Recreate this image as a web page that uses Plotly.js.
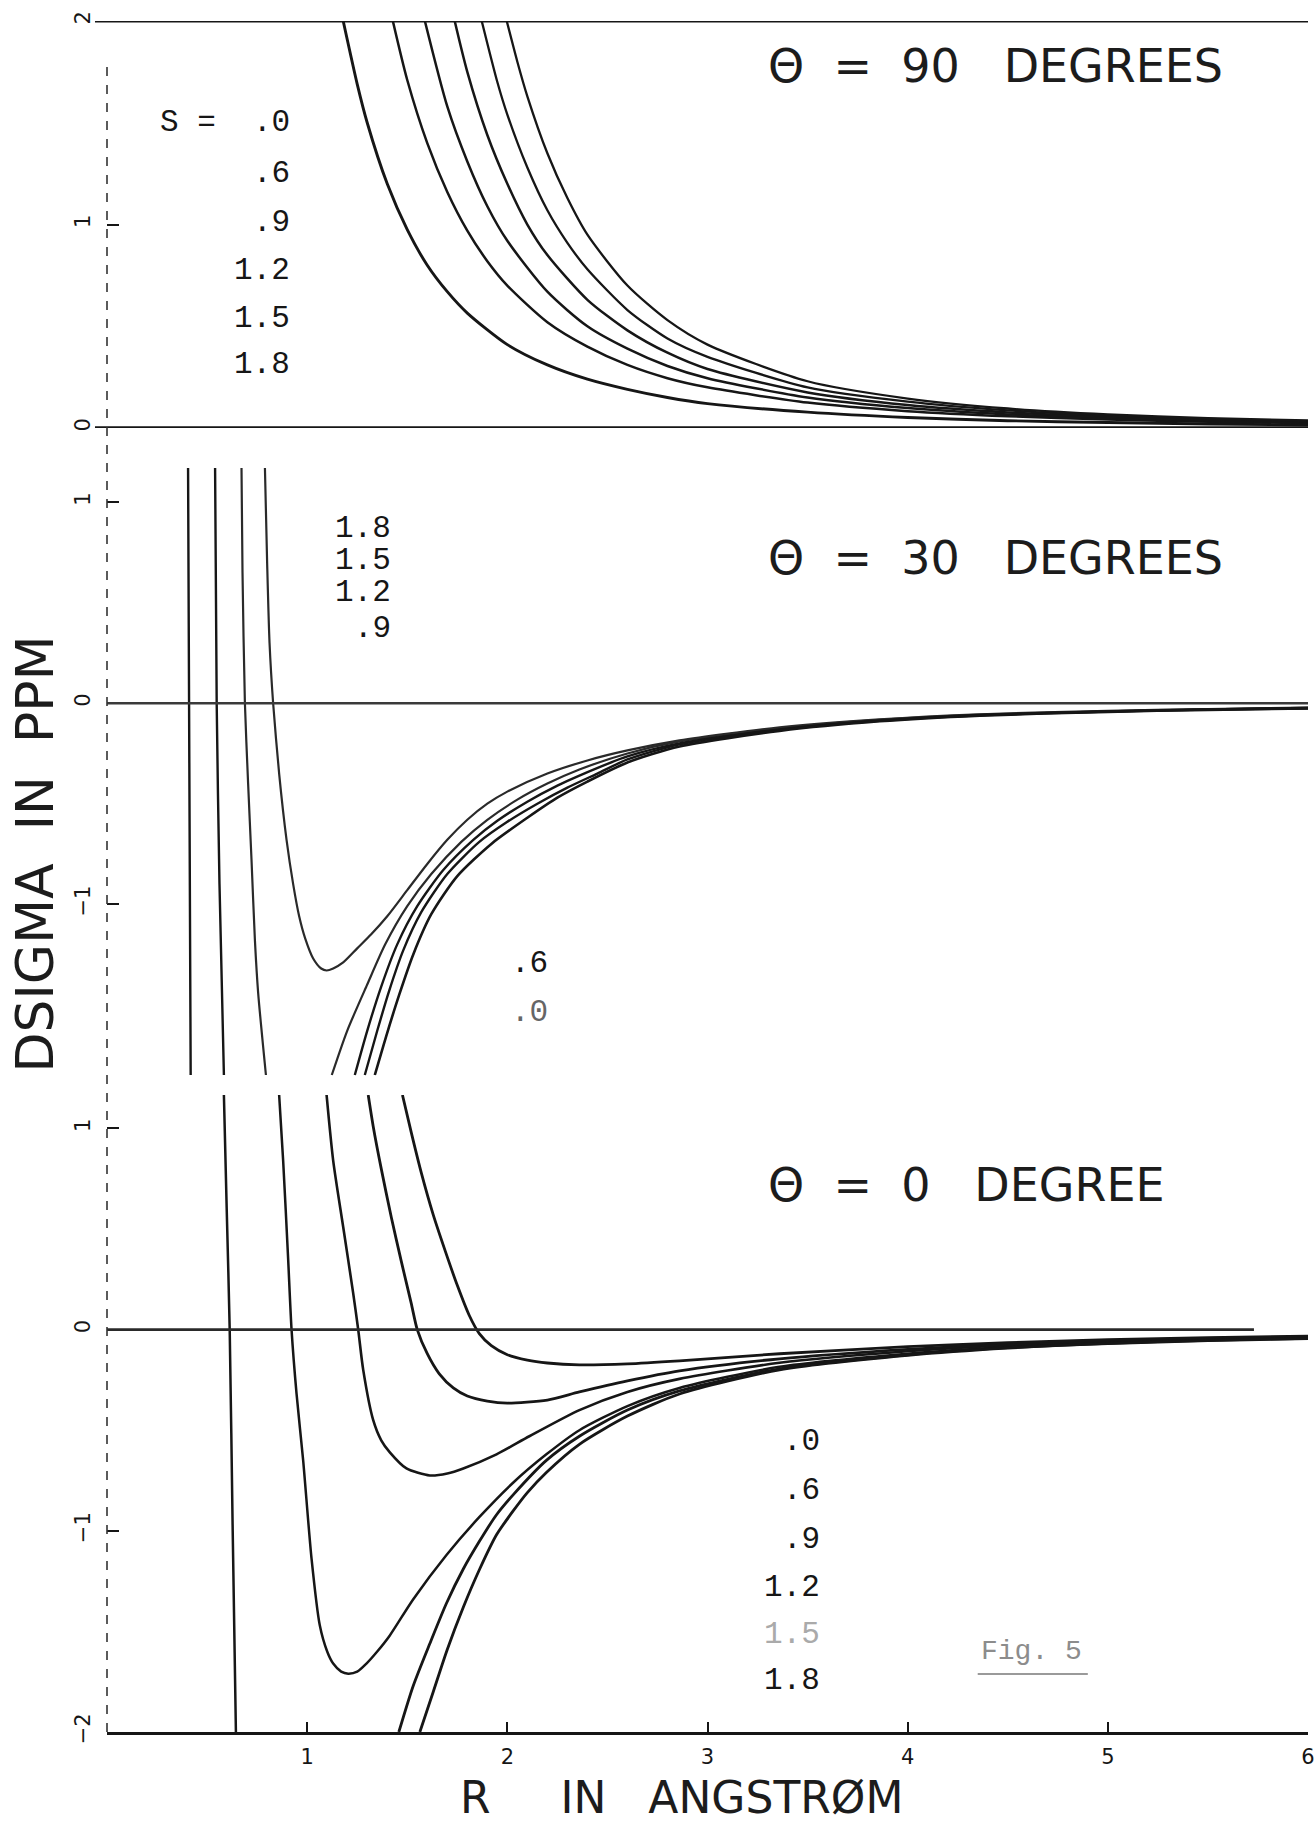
<!DOCTYPE html>
<html>
<head>
<meta charset="utf-8">
<script src="https://cdn.plot.ly/plotly-3.0.1.min.js"></script>
<style>
html,body{margin:0;padding:0;background:#ffffff;}
#chart{width:1316px;height:1827px;}
</style>
</head>
<body>
<div id="chart"></div>
<script>
// ---------------- DATA ----------------
// R axis ticks (Angstrom)
const R_TICKS = [1, 2, 3, 4, 5, 6];
const R_TICK_TEXT = ['1', '2', '3', '4', '5', '6'];

// Panel tick values (DSIGMA in ppm)
const P90_TICKS = [0, 1, 2];
const P30_TICKS = [-1, 0, 1];
const P0_TICKS = [-2, -1, 0, 1];

// S values used as curve labels
const S_LABELS = ['.0', '.6', '.9', '1.2', '1.5', '1.8'];
const P30_UPPER_LABELS = ['1.8', '1.5', '1.2', '.9'];
const P30_LOWER_LABELS = ['.6', '.0'];
const PANEL_TITLES = ['\u0398\u00a0\u00a0=\u00a0\u00a090\u00a0\u00a0\u00a0DEGREES',
                      '\u0398\u00a0\u00a0=\u00a0\u00a030\u00a0\u00a0\u00a0DEGREES',
                      '\u0398\u00a0\u00a0=\u00a0\u00a00\u00a0\u00a0\u00a0DEGREE'];

// ---- Theta = 90 degrees ----
const p90_s00_x = [1.18,1.25,1.3,1.4,1.5,1.6,1.7,1.8,2.0,2.2,2.4,2.6,2.8,3.0,3.5,4.0,4.5,5.0,5.5,6.0];
const p90_s00_y = [2.0,1.69,1.50,1.20,0.975,0.80,0.67,0.565,0.41,0.31,0.24,0.19,0.15,0.12,0.078,0.052,0.036,0.027,0.02,0.015];
const p90_s06_x = [1.428,1.5,1.6,1.7,1.8,1.9,2.0,2.2,2.4,2.6,2.8,3.0,3.5,4.0,4.5,5.0,5.5,6.0];
const p90_s06_y = [2.0,1.71,1.40,1.16,0.97,0.82,0.70,0.52,0.40,0.31,0.245,0.20,0.125,0.083,0.058,0.042,0.031,0.024];
const p90_s09_x = [1.588,1.7,1.8,1.9,2.0,2.2,2.4,2.6,2.8,3.0,3.5,4.0,4.5,5.0,5.5,6.0];
const p90_s09_y = [2.0,1.58,1.31,1.09,0.92,0.67,0.50,0.39,0.305,0.245,0.15,0.098,0.067,0.048,0.036,0.027];
const p90_s12_x = [1.737,1.8,1.9,2.0,2.1,2.2,2.4,2.6,2.8,3.0,3.5,4.0,4.5,5.0,5.5,6.0];
const p90_s12_y = [2.0,1.75,1.44,1.20,1.0,0.85,0.63,0.48,0.37,0.29,0.175,0.113,0.077,0.055,0.04,0.031];
const p90_s15_x = [1.872,1.95,2.0,2.1,2.2,2.3,2.4,2.6,2.8,3.0,3.5,4.0,4.5,5.0,5.5,6.0];
const p90_s15_y = [2.0,1.70,1.54,1.28,1.07,0.91,0.78,0.58,0.44,0.35,0.20,0.13,0.087,0.061,0.045,0.034];
const p90_s18_x = [1.997,2.05,2.1,2.2,2.3,2.4,2.6,2.8,3.0,3.5,4.0,4.5,5.0,5.5,6.0];
const p90_s18_y = [2.0,1.80,1.63,1.35,1.13,0.95,0.70,0.53,0.41,0.23,0.145,0.096,0.067,0.049,0.037];

// ---- Theta = 30 degrees ----
const p30_v1_x = [0.405,0.410,0.418];
const p30_v1_y = [1.17,0.0,-1.85];
const p30_v2_x = [0.540,0.548,0.562,0.584];
const p30_v2_y = [1.17,0.0,-0.9,-1.85];
const p30_v3_x = [0.672,0.677,0.689,0.705,0.722,0.739,0.755,0.794];
const p30_v3_y = [1.17,0.65,0.0,-0.4,-0.78,-1.18,-1.44,-1.85];
const p30_dip_x = [0.789,0.80,0.812,0.830,0.86,0.897,0.93,0.96,0.99,1.03,1.07,1.097,1.13,1.18,1.25,1.32,1.40,1.50,1.60,1.70,1.80,1.90,2.0,2.2,2.4,2.6,2.86,3.36,3.86,4.36,5.0,5.5,6.0];
const p30_dip_y = [1.17,0.7,0.3,0.0,-0.35,-0.68,-0.90,-1.06,-1.17,-1.27,-1.32,-1.33,-1.32,-1.29,-1.22,-1.15,-1.06,-0.93,-0.80,-0.68,-0.58,-0.50,-0.44,-0.35,-0.285,-0.235,-0.185,-0.12,-0.08,-0.055,-0.038,-0.029,-0.022];
const p30_r1_x = [1.123,1.2,1.3,1.39,1.5,1.62,1.77,1.9,2.05,2.2,2.36,2.6,2.86,3.36,3.86,4.36,5.0,5.5,6.0];
const p30_r1_y = [-1.85,-1.63,-1.40,-1.20,-1.01,-0.85,-0.69,-0.58,-0.48,-0.40,-0.33,-0.25,-0.19,-0.125,-0.083,-0.057,-0.04,-0.03,-0.023];
const p30_r2_x = [1.238,1.3,1.37,1.45,1.55,1.68,1.83,1.95,2.1,2.25,2.36,2.6,2.86,3.36,3.86,4.36,5.0,5.5,6.0];
const p30_r2_y = [-1.85,-1.63,-1.41,-1.20,-1.01,-0.83,-0.68,-0.585,-0.49,-0.41,-0.36,-0.265,-0.2,-0.13,-0.086,-0.059,-0.041,-0.031,-0.024];
const p30_r3_x = [1.288,1.35,1.41,1.48,1.57,1.70,1.86,2.0,2.15,2.3,2.45,2.6,2.86,3.36,3.86,4.36,5.0,5.5,6.0];
const p30_r3_y = [-1.85,-1.63,-1.43,-1.23,-1.04,-0.85,-0.69,-0.59,-0.5,-0.42,-0.35,-0.28,-0.205,-0.133,-0.088,-0.06,-0.042,-0.032,-0.025];
const p30_r4_x = [1.338,1.40,1.46,1.53,1.62,1.75,1.92,2.1,2.25,2.4,2.6,2.86,3.36,3.86,4.36,5.0,5.5,6.0];
const p30_r4_y = [-1.85,-1.64,-1.45,-1.25,-1.05,-0.86,-0.70,-0.57,-0.47,-0.39,-0.295,-0.215,-0.138,-0.09,-0.062,-0.043,-0.033,-0.026];

// ---- Theta = 0 degree ----
const p0_a_x = [0.584,0.598,0.613,0.628,0.644];
const p0_a_y = [1.166,0.6,0.0,-1.0,-2.0];
const p0_b_x = [0.86,0.88,0.905,0.922,0.947,0.98,1.022,1.063,1.10,1.13,1.17,1.205,1.25,1.296,1.35,1.413,1.53,1.696,1.862,2.03,2.195,2.36,2.6,2.86,3.36,4.0,4.5,5.0,5.5,6.0];
const p0_b_y = [1.166,0.84,0.35,0.0,-0.32,-0.65,-1.14,-1.47,-1.60,-1.66,-1.70,-1.71,-1.70,-1.66,-1.60,-1.52,-1.34,-1.12,-0.93,-0.76,-0.62,-0.50,-0.38,-0.29,-0.185,-0.12,-0.087,-0.065,-0.05,-0.04];
const p0_c_x = [1.097,1.13,1.18,1.23,1.255,1.28,1.33,1.37,1.413,1.496,1.613,1.70,1.78,1.946,2.11,2.36,2.6,2.86,3.36,4.0,4.5,5.0,5.5,6.0];
const p0_c_y = [1.166,0.84,0.51,0.18,0.0,-0.2,-0.45,-0.55,-0.61,-0.69,-0.725,-0.715,-0.69,-0.62,-0.53,-0.40,-0.31,-0.245,-0.165,-0.108,-0.078,-0.058,-0.046,-0.038];
const p0_d_x = [1.305,1.33,1.37,1.42,1.47,1.52,1.55,1.60,1.66,1.73,1.80,1.90,2.0,2.2,2.36,2.6,2.86,3.36,4.0,4.5,5.0,5.5,6.0];
const p0_d_y = [1.166,1.01,0.80,0.56,0.34,0.13,0.0,-0.12,-0.22,-0.29,-0.33,-0.355,-0.365,-0.35,-0.31,-0.255,-0.205,-0.145,-0.098,-0.072,-0.055,-0.044,-0.036];
const p0_e_x = [1.476,1.52,1.57,1.63,1.69,1.75,1.81,1.86,1.92,2.0,2.1,2.2,2.36,2.6,2.86,3.36,4.0,4.5,5.0,5.5,6.0];
const p0_e_y = [1.166,0.98,0.78,0.57,0.39,0.22,0.07,-0.02,-0.08,-0.125,-0.152,-0.166,-0.175,-0.17,-0.155,-0.12,-0.085,-0.065,-0.05,-0.04,-0.033];
const p0_f_x = [1.458,1.53,1.613,1.696,1.78,1.862,1.946,2.03,2.195,2.36,2.6,2.86,3.36,4.0,4.5,5.0,5.5,6.0];
const p0_f_y = [-2.0,-1.77,-1.56,-1.36,-1.19,-1.05,-0.92,-0.82,-0.65,-0.53,-0.40,-0.305,-0.195,-0.125,-0.09,-0.068,-0.053,-0.043];
const p0_g_x = [1.563,1.63,1.70,1.78,1.862,1.946,2.03,2.1,2.195,2.36,2.6,2.86,3.36,4.0,4.5,5.0,5.5,6.0];
const p0_g_y = [-2.0,-1.80,-1.59,-1.38,-1.19,-1.02,-0.90,-0.81,-0.71,-0.57,-0.43,-0.32,-0.20,-0.128,-0.092,-0.07,-0.055,-0.045];

// ---------------- BUILD ----------------
const INK = '#161616';
function curve(x, y, yaxis, name, w, col) {
  return {
    type: 'scatter', mode: 'lines', x: x, y: y, xaxis: 'x', yaxis: yaxis, name: name,
    line: {color: col || INK, width: w || 2.5, shape: 'spline', smoothing: 0.7},
    hoverinfo: 'x+y+name'
  };
}

const traces = [
  curve(p90_s00_x, p90_s00_y, 'y', '90°, S=.0', 2.9),
  curve(p90_s06_x, p90_s06_y, 'y', '90°, S=.6', 2.5),
  curve(p90_s09_x, p90_s09_y, 'y', '90°, S=.9', 2.5),
  curve(p90_s12_x, p90_s12_y, 'y', '90°, S=1.2', 2.5),
  curve(p90_s15_x, p90_s15_y, 'y', '90°, S=1.5', 2.3),
  curve(p90_s18_x, p90_s18_y, 'y', '90°, S=1.8', 2.3),

  curve(p30_v1_x, p30_v1_y, 'y2', '30°, branch 1', 2.4),
  curve(p30_v2_x, p30_v2_y, 'y2', '30°, branch 2', 2.4),
  curve(p30_v3_x, p30_v3_y, 'y2', '30°, branch 3', 2.2, '#2a2a2a'),
  curve(p30_dip_x, p30_dip_y, 'y2', '30°, branch 4', 2.2, '#2a2a2a'),
  curve(p30_r1_x, p30_r1_y, 'y2', '30°, branch 5', 2.2, '#2a2a2a'),
  curve(p30_r2_x, p30_r2_y, 'y2', '30°, branch 6', 2.4),
  curve(p30_r3_x, p30_r3_y, 'y2', '30°, branch 7', 2.4),
  curve(p30_r4_x, p30_r4_y, 'y2', '30°, branch 8', 2.6),

  curve(p0_a_x, p0_a_y, 'y3', '0°, branch a', 2.5),
  curve(p0_b_x, p0_b_y, 'y3', '0°, branch b', 2.5),
  curve(p0_c_x, p0_c_y, 'y3', '0°, branch c', 2.6),
  curve(p0_d_x, p0_d_y, 'y3', '0°, branch d', 2.8),
  curve(p0_e_x, p0_e_y, 'y3', '0°, branch e', 2.8),
  curve(p0_f_x, p0_f_y, 'y3', '0°, branch f', 2.8),
  curve(p0_g_x, p0_g_y, 'y3', '0°, branch g', 2.8)
];

const TICKFONT = {family: 'DejaVu Sans, sans-serif', size: 21, color: INK};
function yax(domain, range, tickvals) {
  return {
    domain: domain, range: range, anchor: 'x', tickvals: tickvals,
    ticks: 'inside', ticklen: 12, tickwidth: 2, tickcolor: INK,
    tickangle: -90, tickfont: TICKFONT, ticklabelstandoff: 12,
    showline: false, showgrid: false, zeroline: false, fixedrange: true
  };
}

const TYPE = {family: 'Liberation Mono, Courier New, monospace', size: 31, color: INK};
const PLOT = {family: 'DejaVu Sans, sans-serif', size: 46, color: '#1c1c1c'};

const annotations = [];
// Panel titles
[['y', 1.78], ['y2', 0.725], ['y3', 0.72]].forEach(function (p, i) {
  annotations.push({xref: 'x', yref: p[0], x: 3.29, y: p[1], text: PANEL_TITLES[i],
    showarrow: false, xanchor: 'left', yanchor: 'middle', font: PLOT});
});
// Panel 1 S labels
const p90LabelY = [1.499, 1.253, 1.012, 0.776, 0.540, 0.310];
S_LABELS.forEach(function (s, i) {
  annotations.push({xref: 'x', yref: 'y', x: 0.924, y: p90LabelY[i],
    text: i === 0 ? 'S\u00a0=\u00a0\u00a0' + s : s,
    showarrow: false, xanchor: 'right', yanchor: 'middle', font: TYPE});
});
// Panel 2 labels
const p30UpperY = [0.871, 0.711, 0.552, 0.373];
P30_UPPER_LABELS.forEach(function (s, i) {
  annotations.push({xref: 'x', yref: 'y2', x: 1.429, y: p30UpperY[i], text: s,
    showarrow: false, xanchor: 'right', yanchor: 'middle', font: TYPE});
});
const p30LowerY = [-1.294, -1.537];
P30_LOWER_LABELS.forEach(function (s, i) {
  annotations.push({xref: 'x', yref: 'y2', x: 2.213, y: p30LowerY[i], text: s,
    showarrow: false, xanchor: 'right', yanchor: 'middle',
    font: Object.assign({}, TYPE, {color: i === 1 ? '#666' : INK})});
});
// Panel 3 labels
const p0LabelY = [-0.556, -0.799, -1.042, -1.280, -1.514, -1.742];
S_LABELS.forEach(function (s, i) {
  annotations.push({xref: 'x', yref: 'y3', x: 3.571, y: p0LabelY[i], text: s,
    showarrow: false, xanchor: 'right', yanchor: 'middle',
    font: Object.assign({}, TYPE, {color: s === '1.5' ? '#aaaaaa' : INK})});
});
// Fig. 5
annotations.push({xref: 'x', yref: 'y3', x: 4.62, y: -1.60, text: 'Fig. 5',
  showarrow: false, xanchor: 'center', yanchor: 'middle',
  font: {family: 'Liberation Mono, monospace', size: 28, color: '#8c8c8c'}});
// Axis titles
annotations.push({xref: 'paper', yref: 'paper', x: -0.060, y: 0.5134,
  text: 'DSIGMA\u00a0\u00a0IN\u00a0\u00a0PPM', textangle: -90, showarrow: false,
  xanchor: 'center', yanchor: 'middle',
  font: {family: 'DejaVu Sans, sans-serif', size: 52, color: '#1c1c1c'}});
annotations.push({xref: 'paper', yref: 'paper', x: 0.478, y: -0.0384,
  text: 'R\u00a0\u00a0\u00a0\u00a0\u00a0IN\u00a0\u00a0\u00a0ANGSTR\u00d8M', showarrow: false,
  xanchor: 'center', yanchor: 'middle',
  font: {family: 'DejaVu Sans, sans-serif', size: 44, color: '#1c1c1c'}});

const shapes = [
  // panel 1 frame lines (y = 2 and y = 0)
  {type: 'line', xref: 'paper', yref: 'y', x0: -0.01, x1: 1.0, y0: 2, y1: 2, line: {color: INK, width: 3}},
  {type: 'line', xref: 'paper', yref: 'y', x0: -0.01, x1: 1.0, y0: 0, y1: 0, line: {color: INK, width: 3.5}},
  // panel 2 zero line
  {type: 'line', xref: 'paper', yref: 'y2', x0: 0, x1: 1.0, y0: 0, y1: 0, line: {color: '#3a3a3a', width: 2.4}},
  // panel 3 zero line
  {type: 'line', xref: 'x', yref: 'y3', x0: 0, x1: 5.73, y0: 0, y1: 0, line: {color: '#2a2a2a', width: 2.6}},
  // left (dashed) axis
  {type: 'line', xref: 'paper', yref: 'paper', x0: 0, x1: 0, y0: 0, y1: 0.975, line: {color: '#333', width: 1.6, dash: 'dash'}},
  // underline of Fig. 5
  {type: 'line', xref: 'x', yref: 'y3', x0: 4.35, x1: 4.90, y0: -1.712, y1: -1.712, line: {color: '#9a9a9a', width: 2}}
];

const layout = {
  width: 1316, height: 1827,
  margin: {l: 107, r: 8, t: 21, b: 95, pad: 0},
  paper_bgcolor: '#ffffff', plot_bgcolor: 'rgba(0,0,0,0)',
  showlegend: false,
  font: {family: 'DejaVu Sans, sans-serif', color: INK},
  xaxis: {
    domain: [0, 1], range: [0, 6], anchor: 'y3',
    tickvals: R_TICKS, ticktext: R_TICK_TEXT,
    ticks: 'inside', ticklen: 10, tickwidth: 2, tickcolor: INK,
    tickfont: TICKFONT, ticklabelstandoff: 4,
    showline: true, linewidth: 3, linecolor: INK,
    showgrid: false, zeroline: false, fixedrange: true
  },
  yaxis: yax([0.7621, 1.0], [0, 2], P90_TICKS),
  yaxis2: yax([0.3834, 0.7387], [-1.855, 1.17], P30_TICKS),
  yaxis3: yax([0.0, 0.3723], [-2, 1.166], P0_TICKS),
  annotations: annotations,
  shapes: shapes
};

Plotly.newPlot('chart', traces, layout, {displayModeBar: false, staticPlot: true});
</script>
</body>
</html>
